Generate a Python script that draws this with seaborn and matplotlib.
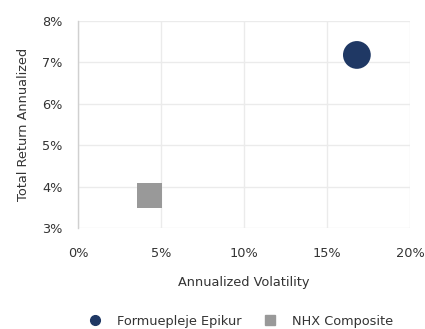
import matplotlib
matplotlib.use("Agg")
import matplotlib.pyplot as plt
import seaborn as sns
import pandas as pd
from matplotlib.ticker import FuncFormatter
from matplotlib.lines import Line2D

names = ["Formuepleje Epikur", "NHX Composite"]
volatility = [16.8, 4.3]
total_return = [7.18, 3.78]
colors = ["#1f3864", "#999999"]
markers = ["o", "s"]
x_ticks = [0, 5, 10, 15, 20]
y_ticks = [3, 4, 5, 6, 7, 8]

df = pd.DataFrame({"name": names, "vol": volatility, "ret": total_return})

sns.set_theme(style="white")
plt.rcParams['font.family'] = ['DejaVu Sans']

fig = plt.figure(figsize=(4.25, 3.29), dpi=100)
ax = fig.add_axes([78/425, 1 - 228/329, 332/425, 207/329])

sns.scatterplot(data=df, x="vol", y="ret", hue="name", style="name", size="name",
                palette=dict(zip(names, colors)), markers=dict(zip(names, markers)),
                sizes=dict(zip(names, [400, 320])),
                linewidth=0, ax=ax, legend=False, zorder=3)

ax.set_xlim(0, 20)
ax.set_ylim(3, 8)
ax.set_xticks(x_ticks)
ax.set_yticks(y_ticks)
ax.xaxis.set_major_formatter(FuncFormatter(lambda v, p: f"{v:.0f}%"))
ax.yaxis.set_major_formatter(FuncFormatter(lambda v, p: f"{v:.0f}%"))
ax.grid(True, color="#ebebeb", linewidth=1)
ax.set_axisbelow(True)
for s in ["top", "right", "bottom"]:
    ax.spines[s].set_visible(False)
ax.spines["left"].set_color("#d0d0d0")
ax.spines["left"].set_linewidth(1)
fs = 9.3
ax.tick_params(axis="x", length=0, pad=14, labelsize=fs, labelcolor="#333333")
ax.tick_params(axis="y", length=0, pad=11, labelsize=fs, labelcolor="#333333")
ax.set_xlabel("Annualized Volatility", fontsize=fs, color="#333333", labelpad=11)
ax.set_ylabel("Total Return Annualized", fontsize=fs, color="#333333", labelpad=9)

handles = [Line2D([], [], marker=m, color=c, linestyle="", markersize=7) for m, c in zip(markers, colors)]
fig.legend(handles, names, loc="center", bbox_to_anchor=(238/425, 1 - 321/329), ncol=2,
           frameon=False, fontsize=fs, handletextpad=0.7, columnspacing=1.2,
           labelcolor="#333333")

fig.savefig("out.png", dpi=100)
